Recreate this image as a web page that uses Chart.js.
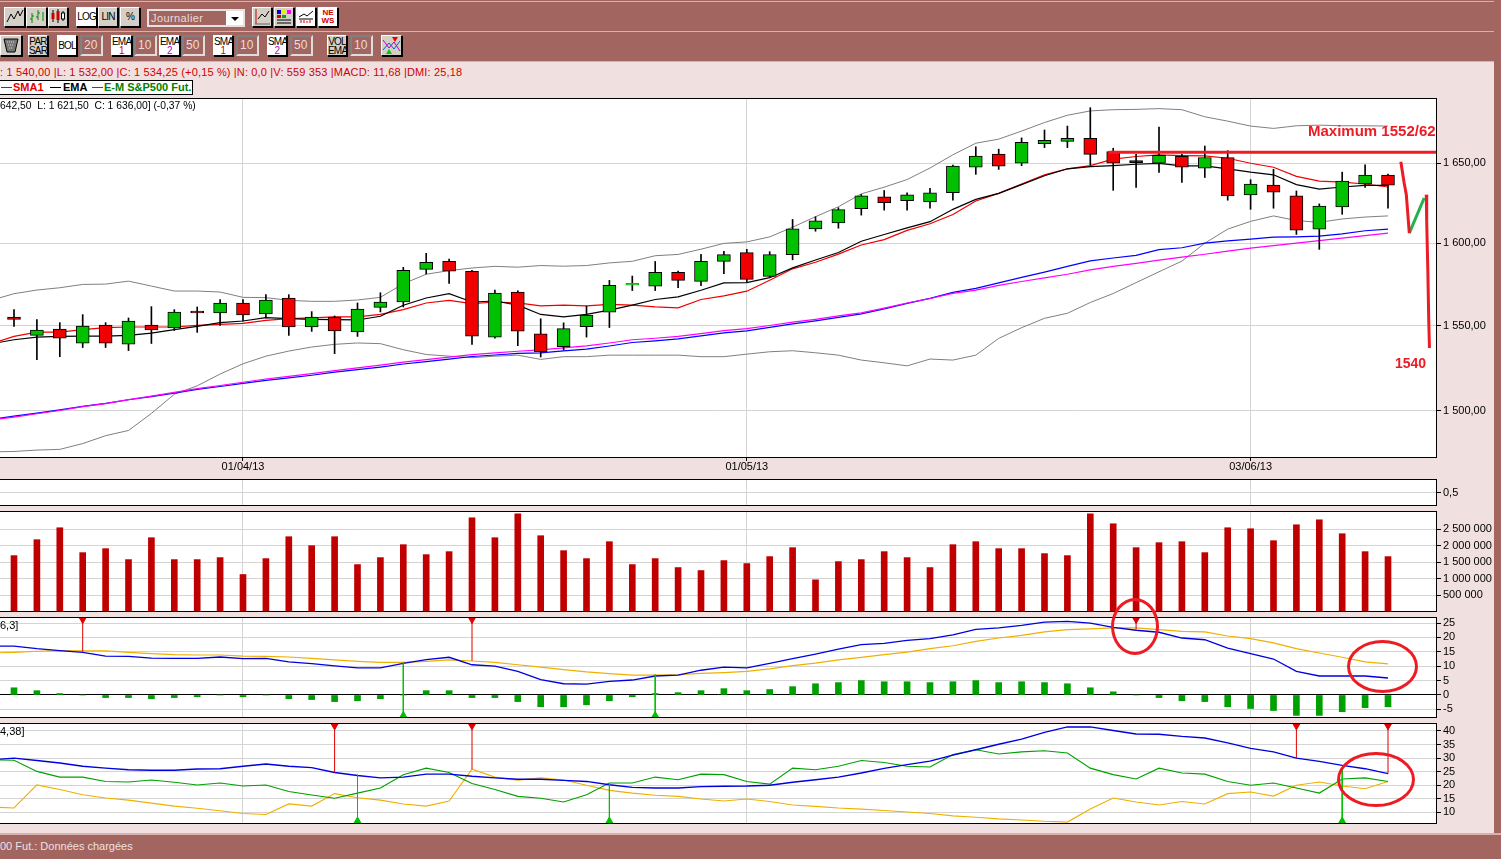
<!DOCTYPE html>
<html>
<head>
<meta charset="utf-8">
<title>E-M S&amp;P500 Fut.</title>
<script src="https://cdn.jsdelivr.net/npm/chart.js@4/dist/chart.umd.js"></script>
<style>
html, body { margin: 0; padding: 0; width: 1501px; height: 859px; overflow: hidden; background: #f0e0e0; }
body { position: relative; font-family: "Liberation Sans", Arial, sans-serif; font-size: 11px; }
canvas { position: absolute; left: 0; }
.abs { position: absolute; white-space: pre; }
.bar { position: absolute; background: #a2655f; }
.btn { position: absolute; box-sizing: border-box; background: #d4d0c8; border: 1px solid #000; border-top-color: #fff; border-left-color: #fff;
  box-shadow: 1px 1px 0 #000; text-align: center; color: #000; font-size: 10px; letter-spacing: -0.8px; line-height: 9px; overflow: hidden; white-space: nowrap; }
.btn.on { background: #fff; }
.btn svg { display: block; margin: 0 auto; }
.val { position: absolute; box-sizing: border-box; border: 2px solid #808080; border-right-color: #ddd; border-bottom-color: #ddd; color: #e8dcdc; font-size: 12px; line-height: 17px; padding-left: 2px; background: #a2655f; }
.ring { position: absolute; box-sizing: border-box; border: 3px solid #ed1c24; border-radius: 50%; }
.note { position: absolute; white-space: pre; color: #ed1c24; font-weight: bold; }
.leg { position: absolute; top: 81px; font-weight: bold; font-size: 11px; line-height: 13px; white-space: pre; }
.dash { position: absolute; top: 87px; height: 1px; width: 11px; }
</style>
</head>
<body>

<div class="bar" style="left:0;top:0;width:1501px;height:62px"></div>
<div class="abs" style="left:0;top:1px;width:1501px;height:1px;background:#d9b0ac"></div>
<div class="abs" style="left:0;top:31px;width:1501px;height:1px;background:#d9b0ac"></div>
<div class="abs" style="left:0;top:61px;width:1501px;height:1px;background:#d9b0ac"></div>
<div class="bar" style="left:1494px;top:0;width:7px;height:859px"></div>
<div class="bar" style="left:0;top:833px;width:1501px;height:26px;border-top:2px solid #d9b0ac;box-sizing:border-box"></div>

<!-- toolbar row 1 -->
<div class="btn" style="left:4px;top:7px;width:21px;height:20px"><svg width="18" height="16"><polyline points="1,14 5,6 8,11 12,3 14,8 17,2" fill="none" stroke="#000"/></svg></div>
<div class="btn" style="left:26px;top:7px;width:21px;height:20px"><svg width="18" height="16"><path d="M4 5V15M2 11H4M4 8H6M10 2V12M8 9H10M10 5H12M15 4V13" stroke="#080" fill="none"/></svg></div>
<div class="btn" style="left:48px;top:7px;width:20px;height:20px"><svg width="18" height="16"><path d="M4 2V14M9 1V15M14 3V13" stroke="#000"/><rect x="2.5" y="5" width="3" height="6" fill="#c00"/><rect x="7.5" y="3" width="3" height="9" fill="#c00"/><rect x="12.5" y="5" width="3" height="6" fill="#fff" stroke="#000"/></svg></div>
<div class="btn on" style="left:76px;top:7px;width:21px;height:20px;line-height:18px">LOG</div>
<div class="btn" style="left:98px;top:7px;width:20px;height:20px;line-height:18px">LIN</div>
<div class="btn" style="left:120px;top:7px;width:20px;height:20px;line-height:18px">%</div>
<div class="abs" style="left:147px;top:9px;width:98px;height:18px;box-sizing:border-box;border:2px solid #e6e0e0;background:#a2655f;color:#e8dcdc;font-size:11px;line-height:14px;padding-left:2px;letter-spacing:.4px">Journalier</div>
<div class="abs" style="left:226px;top:11px;width:17px;height:14px;background:#fff"></div>
<div class="abs" style="left:231px;top:17px;width:0;height:0;border-left:4px solid transparent;border-right:4px solid transparent;border-top:4px solid #000"></div>
<div class="btn" style="left:252px;top:7px;width:20px;height:20px"><svg width="18" height="17"><path d="M3 1V16" stroke="#c00"/><polyline points="5,11 9,6 12,9 16,3" fill="none" stroke="#000"/><path d="M2 16H17" stroke="#666"/></svg></div>
<div class="btn" style="left:274px;top:7px;width:20px;height:20px"><svg width="18" height="17"><rect x="2" y="2" width="4" height="4" fill="#00c"/><rect x="7" y="2" width="4" height="4" fill="#ee0"/><rect x="12" y="2" width="4" height="4" fill="#f0f"/><rect x="2" y="7" width="4" height="3" fill="#c00"/><rect x="7" y="7" width="4" height="3" fill="#0a0"/><path d="M2 12H16M2 15H16" stroke="#000"/></svg></div>
<div class="btn on" style="left:296px;top:7px;width:20px;height:20px"><svg width="18" height="17"><polyline points="2,9 7,6 10,8 16,3" fill="none" stroke="#000"/><path d="M2 11H16" stroke="#000"/><path d="M4 15V12M7 15V12M10 15V13M13 15V12" stroke="#c00"/></svg></div>
<div class="btn on" style="left:318px;top:7px;width:20px;height:20px;color:#d00000;font-weight:bold;font-size:8px;line-height:8px;letter-spacing:0;padding-top:1px">NE<br>WS</div>

<!-- toolbar row 2 -->
<div class="btn" style="left:0;top:35px;width:22px;height:21px"><svg width="18" height="18"><path d="M2 3H16L13 16H5Z" fill="#777" stroke="#000"/><path d="M5 6H13M6 9H12M7 12H11" stroke="#ddd" stroke-dasharray="1 1"/></svg></div>
<div class="btn" style="left:28px;top:35px;width:20px;height:21px;padding-top:1px">PAR<br>SAR</div>
<div class="btn on" style="left:57px;top:35px;width:20px;height:21px;line-height:19px">BOL</div>
<div class="val" style="left:80px;top:35px;width:23px;height:21px">20</div>
<div class="btn on" style="left:111px;top:35px;width:21px;height:21px;padding-top:1px">EMA<br><span style="color:#e00000">1</span></div>
<div class="val" style="left:134px;top:35px;width:23px;height:21px">10</div>
<div class="btn on" style="left:159px;top:35px;width:21px;height:21px;padding-top:1px">EMA<br><span style="color:#c000c0">2</span></div>
<div class="val" style="left:182px;top:35px;width:23px;height:21px">50</div>
<div class="btn on" style="left:213px;top:35px;width:20px;height:21px;padding-top:1px">SMA<br><span style="color:#e00000">1</span></div>
<div class="val" style="left:236px;top:35px;width:23px;height:21px">10</div>
<div class="btn on" style="left:267px;top:35px;width:20px;height:21px;padding-top:1px">SMA<br><span style="color:#c000c0">2</span></div>
<div class="val" style="left:290px;top:35px;width:23px;height:21px">50</div>
<div class="btn" style="left:327px;top:35px;width:20px;height:21px;padding-top:1px">VOL<br>EMA</div>
<div class="val" style="left:350px;top:35px;width:23px;height:21px">10</div>
<div class="btn" style="left:381px;top:35px;width:21px;height:21px"><svg width="19" height="19"><polyline points="1,4 7,12 12,6 18,15" fill="none" stroke="#c000c0"/><polyline points="1,14 7,7 12,13 18,5" fill="none" stroke="#06c"/><path d="M10 1H16L13 6Z" fill="#e00"/><path d="M4 18H10L7 13Z" fill="#0c0"/></svg></div>

<!-- info lines -->
<div class="abs" style="left:0;top:66px;color:#d00000;font-size:11px;line-height:13px;letter-spacing:.15px">: 1 540,00 |L: 1 532,00 |C: 1 534,25 (+0,15 %) |N: 0,0 |V: 559 353 |MACD: 11,68 |DMI: 25,18</div>
<div class="abs" style="left:-1px;top:80px;width:194px;height:15px;box-sizing:border-box;border:1px solid #000;background:#fff"></div>
<div class="dash" style="left:1px;background:#e00000"></div><div class="leg" style="left:13px;color:#e00000">SMA1</div>
<div class="dash" style="left:50px;background:#000"></div><div class="leg" style="left:63px;color:#000">EMA</div>
<div class="dash" style="left:92px;background:#008000"></div><div class="leg" style="left:104px;color:#008000">E-M S&amp;P500 Fut.</div>

<canvas id="mainChart" width="1501" height="380" style="top:98px"></canvas>
<canvas id="blankChart" width="1501" height="28" style="top:479px"></canvas>
<canvas id="volChart" width="1501" height="102" style="top:511px"></canvas>
<canvas id="macdChart" width="1501" height="102" style="top:617px"></canvas>
<canvas id="dmiChart" width="1501" height="102" style="top:723px"></canvas>

<div class="abs" style="left:0;top:99px;color:#000;font-size:10.3px;line-height:13px">642,50  L: 1 621,50  C: 1 636,00] (-0,37 %)</div>
<div class="abs" style="left:0;top:619px;color:#000;font-size:11px;line-height:13px">6,3]</div>
<div class="abs" style="left:0;top:725px;color:#000;font-size:11px;line-height:13px">4,38]</div>
<div class="abs" style="left:0;top:840px;color:#f0e0e0;font-size:11px;line-height:13px">00 Fut.: Données chargées</div>

<div class="note" style="left:1308px;top:122px;font-size:15px;line-height:17px">Maximum 1552/62</div>
<div class="note" style="left:1395px;top:355px;font-size:14px;line-height:16px">1540</div>
<div class="ring" style="left:1111px;top:598px;width:48px;height:57px"></div>
<div class="ring" style="left:1347px;top:640px;width:71px;height:53px"></div>
<div class="ring" style="left:1337px;top:752px;width:78px;height:55px"></div>

<script>
// Candles, one per trading day
const candleOpen = [1555.2,1544.2,1548,1539.6,1550.4,1539,1550.4,1548.6,1558.8,1557.6,1563.6,1557,1566.6,1549.2,1555.2,1546.2,1561,1564.2,1584,1588.8,1582.8,1543.2,1570.1,1545.2,1537.5,1549.4,1558.1,1574.3,1573.7,1582.1,1576.7,1588.8,1594.2,1579.7,1593,1608.9,1612.6,1621.4,1628.9,1626.4,1625.7,1631.4,1647.6,1655.9,1650,1662.5,1664,1665.9,1657.4,1650.4,1650,1654.4,1646.9,1653.7,1630,1636.2,1629.4,1608.7,1622.5,1636.9,1642.5];
const candleHigh = [1559.6,1553.6,1551.8,1556.6,1551.8,1554.6,1561.4,1559.6,1561.2,1565.6,1565.6,1568.6,1568.6,1558.4,1555.8,1563.6,1569.8,1585.2,1593.8,1590.2,1583.4,1571.4,1571,1554.1,1551.7,1561.7,1577.3,1579.9,1588.8,1582.9,1593.2,1595,1596.2,1594.8,1614.7,1616.4,1622,1630.3,1632.8,1631.4,1634.1,1648.8,1660.5,1659,1666.2,1671.3,1673.8,1685.7,1659.6,1655.7,1673.2,1655.7,1661,1658.1,1639.6,1646.2,1632.5,1624.4,1644.4,1649,1643.1];
const candleLow = [1549.6,1529.8,1531.6,1537,1537,1535.2,1539.4,1547.2,1546,1550.2,1552.8,1554.6,1544.2,1546.6,1533.4,1543.6,1558.2,1561.2,1581.2,1575.4,1538.8,1542.6,1538.1,1531.4,1535.5,1543.2,1548.9,1571.1,1571.1,1572.9,1574.1,1581.3,1576.5,1579.5,1589.8,1607.4,1609.3,1617.4,1620.5,1620.5,1621.8,1626.8,1643,1646.1,1648.5,1660,1660,1648.9,1632.9,1634.8,1644.2,1637.9,1641,1626.7,1621,1621.7,1605.4,1596.2,1617.9,1634.8,1621.7];
const candleClose = [1553.8,1547.4,1542.6,1549.8,1539.6,1552.8,1547.4,1558.2,1557.6,1563.6,1556.4,1565.4,1549.2,1555.2,1546.8,1560,1564.2,1583.4,1588.2,1582.8,1543.8,1569.6,1546.7,1534.5,1548.2,1556.3,1574.3,1574.3,1582.1,1577.3,1588.8,1593,1577.9,1593,1608.9,1613.9,1620.8,1629.5,1625.1,1630.1,1631.4,1648.2,1654.6,1648.2,1663.4,1664.7,1665.9,1655.7,1650,1651.1,1655.1,1647.5,1653.7,1629.4,1636.9,1631.7,1608.1,1623.1,1638.7,1642.5,1636.2];
const greenCrossDay = 27; // open == close, drawn as a green dash
const blackCrossDay = 49; // open ~ close, drawn as a black dash

// Overlays; these start one day before the first candle, off the left edge
const sma10 = [1539.2,1543.6,1546.2,1546.2,1547.6,1548.8,1549.2,1549.2,1549.2,1550.2,1550.8,1551.4,1553.2,1554.2,1554.6,1555.2,1555.2,1556.8,1559.6,1563.6,1565.2,1563.2,1564.2,1563.7,1561.9,1562.3,1561.9,1562.7,1562.3,1561.3,1560.7,1565.7,1567.9,1570.7,1577.3,1584.3,1588.3,1593.3,1598.9,1602.2,1607.9,1612,1617.8,1626.2,1631,1636.9,1642.7,1646.5,1648.5,1652.6,1654.3,1655.3,1654.9,1654.7,1653.2,1650,1647.5,1641.7,1638.7,1638.1,1636.9,1635];
const ema10 = [1539.2,1541.6,1543.2,1543.6,1543.8,1543.8,1544.2,1545.6,1547.6,1549.6,1551.8,1552.8,1554.8,1554.2,1553.8,1553.6,1553.4,1555.6,1562.2,1566.6,1569.2,1564.2,1564.8,1562.3,1556.7,1555.3,1556.7,1559.3,1562.3,1565.7,1567.3,1571.3,1575.7,1575.9,1578.9,1584.9,1589.7,1594.3,1601.2,1605.4,1609.5,1613.3,1621,1627.2,1631,1636.5,1642.1,1646.5,1647.9,1648.5,1649.4,1650,1648.3,1648.3,1646.5,1644.4,1642.7,1636.5,1633.7,1635,1636,1636];
const ema50 = [1495,1496.9,1498.7,1500.5,1502.6,1504.3,1506.4,1508.2,1510.3,1512.4,1514.1,1515.9,1517.7,1519.2,1520.7,1522.5,1524,1525.5,1527.3,1528.7,1530.2,1531.7,1532.6,1533.5,1533.8,1535,1536.1,1537.9,1540,1540.9,1542.1,1543.9,1545.7,1546.9,1549,1551.1,1552.9,1555,1557.1,1560.1,1563.4,1566.4,1570,1572.4,1575.7,1579.1,1582.3,1585.8,1589.1,1590.9,1592.5,1596,1597.2,1600,1601.4,1602.5,1603.7,1603.9,1604.4,1605.8,1607.7,1608.7];
const sma50 = [1494.6,1496.4,1498.3,1500.2,1502.4,1504.2,1506.5,1508.5,1510.7,1512.9,1514.7,1516.6,1518.5,1520,1521.6,1523.4,1525,1526.6,1528.4,1529.9,1531.3,1532.8,1533.8,1534.8,1535.6,1536.8,1538,1539.7,1541.6,1542.5,1543.6,1545.3,1547,1548.2,1550.1,1552.1,1553.8,1555.8,1557.7,1560.5,1563.6,1566.3,1569.4,1571.4,1574.2,1576.6,1578.8,1581,1583.6,1585.8,1587.6,1589.6,1591.4,1593.2,1595.1,1597,1598.5,1600.1,1601.6,1603.1,1604.7,1606.2];
const bollUpper = [1565.2,1569.2,1571.4,1572.8,1574.8,1575,1576.8,1573.8,1570.8,1570.8,1570.2,1567,1566.8,1565.2,1564.6,1564.6,1565.4,1567,1575.2,1581,1583.2,1584.8,1585.8,1585.3,1586.3,1585.9,1586.3,1587.9,1588.9,1592.3,1593.1,1596.3,1599.9,1600.8,1603.9,1609.9,1616.4,1622.6,1630.7,1634.9,1639.7,1647,1655.4,1662.8,1665.4,1670.6,1676.1,1680.8,1683.6,1684.4,1684.6,1685.1,1684.4,1679.8,1677,1673.8,1672.3,1674,1674.4,1674,1674,1673.8];
const bollLower = [1476.5,1476.7,1477.5,1477.9,1481.2,1485.7,1488.7,1498.5,1509.6,1514.5,1521.4,1527.4,1531.9,1534.9,1537.3,1538.9,1539.7,1539.3,1535.7,1532.9,1531.9,1531,1531.9,1532.5,1530,1531.6,1531.6,1532.5,1532.5,1532.5,1532.5,1531.6,1531.6,1533.1,1534.5,1535.1,1533.9,1532.5,1529.6,1528,1526.2,1530.2,1529.6,1532.5,1542.4,1548.8,1554.4,1557.4,1563.9,1569.3,1575.9,1582.5,1589,1600,1608.7,1613.5,1616.9,1614,1612.9,1615,1616.2,1616.9];

// Hand drawn marks on the price panel, [day, price]
const maximumLine = [[47.8, 1657], [62.2, 1657]];
const drawnDown = [[60.56, 1651], [60.7, 1638], [60.8, 1630.2], [60.93, 1606.2]];
const drawnUp = [[60.93, 1606.2], [61.58, 1628.1]];
const drawnFall = [[61.67, 1630.2], [61.69, 1613.5], [61.74, 1582.9], [61.78, 1552.8], [61.81, 1536.7]];

const volume = [1700000,2180000,2540000,1790000,1910000,1580000,2240000,1580000,1580000,1640000,1130000,1610000,2270000,2000000,2270000,1430000,1640000,2030000,1730000,1820000,2840000,2240000,2960000,2300000,1850000,1610000,2120000,1430000,1610000,1340000,1250000,1550000,1460000,1670000,1940000,970000,1520000,1580000,1820000,1640000,1340000,2030000,2120000,1910000,1910000,1760000,1700000,2960000,2660000,1940000,2090000,2120000,1790000,2540000,2510000,2150000,2630000,2780000,2360000,1820000,1670000];

const macdLine = [17,17,16.1,15.4,14.8,13.5,13.4,12.8,12.7,12.7,13.2,12.6,12.7,11.5,10.9,10.1,9.4,9.4,11,12.3,13.1,10.5,10,8.2,5.3,3.9,3.8,4.7,5.2,6.6,6.9,8.6,9.7,9.4,11,12.6,14.2,15.9,17.5,17.9,19,19.6,20.9,22.8,23.3,24.2,25.3,25.6,25,23.5,22.5,21.8,19.8,19.2,16.3,14.4,12.5,8.2,6.6,6.6,6.6,5.9];
const macdSignal = [14.6,14.8,15.2,15.4,15.3,15.3,14.8,14.4,14,13.9,13.9,13.5,13.4,13.2,12.7,12.2,11.7,11.3,11.3,11.7,12.2,11.8,11.3,10.5,9.7,8.8,8,7.4,6.9,6.9,7.1,7.5,7.8,8.2,9.1,10.2,11.1,12.2,13.1,14,14.9,16.1,17.1,18.6,19.8,20.7,21.9,22.7,23,23.3,23.3,22.7,22.1,21.9,20.5,19.6,18.1,16.1,14.6,13.1,11.5,10.8];
const macdHist = [2.5,1.5,0.5,0,-0.9,-0.9,-1.3,-0.9,-0.6,0,-0.6,0,-1.3,-1.6,-2.3,-2,-1.3,0,1.5,1.5,-0.9,-0.9,-2.3,-4.1,-4.1,-3.4,-2,-0.6,0.5,0.8,1.5,2.2,1.5,1.9,2.9,3.9,4.3,5,4.6,4.6,4.3,4.6,5,4.3,4.6,4.3,3.9,2.5,1.1,0,-0.9,-2,-2.3,-4.1,-4.7,-5.4,-7.1,-7.1,-5.8,-4.4,-4.1];
const macdSellDays = [3, 20, 49];
const macdSellLevels = [15, 11.9, 22.7];
const macdBuyDays = [17, 28];
const macdBuyLevels = [11.3, 7.1];

const dmiAdx = [29.4,30,29.1,28.2,27,26.3,25.7,25.5,25.5,26,26.1,27,27.8,27,26.5,24.7,23.6,22.7,23,24.1,24.1,23.3,22.7,22.2,22.2,21.8,21.4,20.2,19.2,19,19,19.5,19.6,19.7,20,21.1,22,23,24.5,26.2,27.6,28.9,31.1,33.1,35.1,37,39.5,41.5,41.5,40.2,38.9,38.8,38,37.4,35.6,33.6,32.3,30,28.8,27.3,26.1,24.3];
const dmiPlus = [29.4,29.2,25.1,23,23,21.4,21.2,21.9,21.1,20.1,20.8,19.7,20.1,17.7,16.4,15.2,17.1,19,23.9,26.3,24.7,20.6,18.4,15.9,15.2,13.8,16.5,20.8,20.8,23,22,24.1,23.9,21.4,20.4,26.3,25.7,27,29.1,28.4,27,26.7,31.3,33.1,31.5,32.3,32.7,31.9,26.3,23.9,22.3,26.3,24.5,24.1,21.4,20,20.8,19,17.1,22.3,22.7,21.4];
const dmiMinus = [12,11.6,20.1,18.4,16.5,15.3,14.5,13.4,12.3,11.5,10.6,9.6,9.2,13.1,12.3,16.9,15.4,14.5,13.1,12.3,14.2,25.9,23,21.9,22.7,21.9,20,18.1,17.1,16.3,15.9,14.9,14.2,14.9,14,12.7,12.2,11.6,11.2,10.7,10.1,9.6,8.7,8.2,7.6,7.2,6.7,6.4,11.2,15.3,13.8,12.7,14,13.1,16.9,17.5,16,20,21.2,19.7,18.7,21.4];
const dmiSellDays = [14, 20, 56, 60];
const dmiSellLevels = [24.7, 25.9, 30, 24.3];
const dmiBuyDays = [15, 26, 58];
const dmiBuyLevels = [23.9, 20.8, 26];

// Axis ticks
const dateDays = [10, 32, 54];
const dateLabels = ["01/04/13", "01/05/13", "03/06/13"];
const priceTicks = [1500, 1550, 1600, 1650];
const blankTicks = [0.5];
const volumeTicks = [500000, 1000000, 1500000, 2000000, 2500000];
const macdTicks = [-5, 0, 5, 10, 15, 20, 25];
const dmiTicks = [10, 15, 20, 25, 30, 35, 40];

// Colours
const GREEN = "#00c000";
const RED = "#f00000";
const GRID = "#d4d4d4";
const SIGNAL_RED = "#e00000";
const SIGNAL_GREEN = "#00c000";
const DRAWN_RED = "#ed1c24";

// Pixel x of a day: 14 + 22.9 * day, plot runs 0..1437
const X_MIN = -14 / 22.9;
const X_MAX = (1437 - 14) / 22.9;

Chart.defaults.font.family = '"Liberation Sans", Arial, sans-serif';
Chart.defaults.font.size = 11;
Chart.defaults.color = "#000";
Chart.defaults.animation = false;

// White plot area and black frame around it
const panelFrame = {
  id: "panelFrame",
  beforeDraw(chart) {
    const { ctx, chartArea } = chart;
    ctx.save();
    ctx.fillStyle = "#fff";
    ctx.fillRect(chartArea.left, chartArea.top, chartArea.right - chartArea.left, chartArea.bottom - chartArea.top);
    ctx.restore();
  },
  afterDraw(chart) {
    const { ctx, chartArea } = chart;
    ctx.save();
    ctx.strokeStyle = "#000";
    ctx.lineWidth = 1;
    ctx.strokeRect(-2, chartArea.top + 0.5, chartArea.right + 1.5, chartArea.bottom - chartArea.top - 1);
    ctx.restore();
  }
};

function frenchNumber(v, decimals) {
  const [whole, dec] = Number(v).toFixed(decimals).split(".");
  const grouped = whole.replace(/\B(?=(\d{3})+(?!\d))/g, " ");
  return dec ? grouped + "," + dec : grouped;
}

function lineSet(values, color, width, order) {
  return {
    type: "line",
    data: values.map((v, i) => ({ x: i - 1, y: v })),
    borderColor: color, borderWidth: width, pointRadius: 0, tension: 0, order
  };
}

function drawnSet(points, color, width) {
  return {
    type: "line",
    data: points.map(p => ({ x: p[0], y: p[1] })),
    borderColor: color, borderWidth: width, pointRadius: 0, tension: 0, order: -1,
    borderCapStyle: "butt"
  };
}

// Vertical signal line, with its triangle on the panel edge
function signalSets(days, levels, edge, color, rotation) {
  const sets = [];
  days.forEach((d, i) => {
    sets.push({
      type: "line",
      data: [{ x: d, y: levels[i] }, { x: d, y: edge }],
      borderColor: color, borderWidth: 1, pointRadius: 0, order: -1
    });
  });
  sets.push({
    type: "scatter",
    data: days.map(d => ({ x: d, y: edge })),
    backgroundColor: color, borderColor: color, pointStyle: "triangle", rotation, pointRadius: 4, order: -2
  });
  return sets;
}

function makePanel(id, datasets, y, yTicks, yLabel, xAxisHeight, showDates, zeroLine) {
  return new Chart(document.getElementById(id), {
    type: "bar",
    data: { datasets },
    options: {
      responsive: false,
      devicePixelRatio: 1,
      events: [],
      layout: { padding: 0, autoPadding: false },
      plugins: { legend: { display: false }, tooltip: { enabled: false } },
      scales: {
        x: {
          type: "linear", min: X_MIN, max: X_MAX, offset: false, bounds: "data",
          grid: { color: GRID, offset: false, drawTicks: showDates, tickColor: "#000", tickLength: 3 },
          border: { display: false },
          ticks: {
            display: showDates, autoSkip: false, maxRotation: 0, padding: -1,
            callback: v => dateLabels[dateDays.indexOf(v)]
          },
          afterBuildTicks(axis) { axis.ticks = dateDays.map(d => ({ value: d })); },
          afterFit(axis) { axis.height = xAxisHeight; axis.paddingLeft = 0; axis.paddingRight = 0; }
        },
        y: Object.assign({
          position: "right", beginAtZero: false, bounds: "data",
          grid: {
            color: c => (zeroLine && c.tick && c.tick.value === 0) ? "#000" : GRID,
            drawTicks: true, tickColor: "#000", tickLength: 4
          },
          border: { display: false },
          ticks: { autoSkip: false, padding: 2, callback: yLabel },
          afterBuildTicks(axis) { axis.ticks = yTicks.map(v => ({ value: v })); },
          afterFit(axis) { axis.width = 64; axis.paddingTop = 0; axis.paddingBottom = 0; }
        }, y)
      }
    },
    plugins: [panelFrame]
  });
}

// Main price panel, log scale
const wickData = candleHigh.map((h, i) => ({ x: i, y: [candleLow[i], h] }));
const bodyData = candleOpen.map((o, i) => ({ x: i, y: [o, candleClose[i]] }));
const bodyColor = candleOpen.map((o, i) => {
  if (i === greenCrossDay) return GREEN;
  if (i === blackCrossDay) return "#000";
  return candleClose[i] >= o ? GREEN : RED;
});
const bodyBorder = candleOpen.map((o, i) => i === greenCrossDay ? GREEN : "#000");

makePanel("mainChart", [
  { type: "bar", data: bodyData, grouped: false, barThickness: 13, backgroundColor: bodyColor, borderColor: bodyBorder, borderWidth: 1, borderSkipped: false, minBarLength: 2, order: 0 },
  { type: "bar", data: wickData, grouped: false, barThickness: 1, backgroundColor: "#000", order: 1 },
  lineSet(bollUpper, "#808080", 1, 6),
  lineSet(bollLower, "#808080", 1, 6),
  lineSet(sma50, "#ff00ff", 1.2, 4),
  lineSet(ema50, "#0000ff", 1.2, 5),
  lineSet(sma10, "#f00000", 1.2, 3),
  lineSet(ema10, "#000000", 1.2, 2),
  drawnSet(maximumLine, DRAWN_RED, 3),
  drawnSet(drawnDown, DRAWN_RED, 3),
  drawnSet(drawnUp, "#22b14c", 3),
  drawnSet(drawnFall, DRAWN_RED, 3)
], { type: "logarithmic", min: 1473, max: 1692 }, priceTicks, v => frenchNumber(v, 2), 20, true, false);

makePanel("blankChart", [], { type: "linear", min: 0, max: 1 }, blankTicks, v => String(v).replace(".", ","), 1, false, false);

makePanel("volChart", [
  { type: "bar", data: volume.map((v, i) => ({ x: i, y: v })), grouped: false, barThickness: 6, backgroundColor: "#c00000" }
], { type: "linear", min: 0, max: 3045000 }, volumeTicks, v => frenchNumber(v, 0), 1, false, false);

makePanel("macdChart", [
  { type: "bar", data: macdHist.map((v, i) => ({ x: i, y: v })), grouped: false, barThickness: 6, backgroundColor: "#00a000", order: 3 },
  lineSet(macdSignal, "#f0b000", 1.2, 2),
  lineSet(macdLine, "#0000e0", 1.3, 1),
  ...signalSets(macdSellDays, macdSellLevels, 26.2, SIGNAL_RED, 180),
  ...signalSets(macdBuyDays, macdBuyLevels, -7.1, SIGNAL_GREEN, 0)
], { type: "linear", min: -8, max: 27.1 }, macdTicks, v => String(v), 1, false, true);

makePanel("dmiChart", [
  lineSet(dmiMinus, "#f0b000", 1.1, 3),
  lineSet(dmiPlus, "#00a000", 1.1, 2),
  lineSet(dmiAdx, "#0000e0", 1.4, 1),
  ...signalSets(dmiSellDays, dmiSellLevels, 41.9, SIGNAL_RED, 180),
  ...signalSets(dmiBuyDays, dmiBuyLevels, 6.8, SIGNAL_GREEN, 0)
], { type: "linear", min: 5.7, max: 42.95 }, dmiTicks, v => String(v), 1, false, false);
</script>
</body>
</html>
